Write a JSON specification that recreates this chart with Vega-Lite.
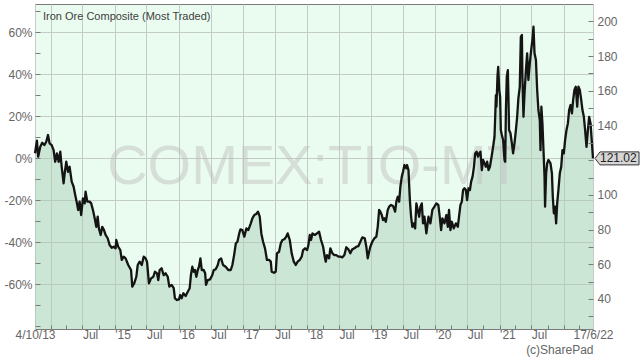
{
  "$schema": "https://vega.github.io/schema/vega-lite/v6.json",
  "width": 558,
  "height": 325,
  "autosize": "none",
  "padding": {"left": 35, "top": 4, "right": 47, "bottom": 31},
  "background": "#ffffff",
  "view": {"fill": "#eafcf0", "stroke": "#7a7a7a", "strokeWidth": 1},
  "title": {"text": "Iron Ore Composite (Most Traded)", "anchor": "start", "frame": "group", "orient": "top", "baseline": "top", "offset": -7, "dx": 8, "dy": 11, "fontSize": 11, "font": "Liberation Sans", "fontWeight": "normal", "color": "#404040"},
  "config": {
    "axis": {"labelFont": "Liberation Sans", "labelFontSize": 12, "labelColor": "#666666", "titleFont": "Liberation Sans", "tickColor": "#7a7a7a", "domain": false, "gridColor": "#c3cdc5", "gridWidth": 1, "gridOpacity": 1}
  },
  "datasets": {
    "iron": [
      {"date":"2013/10/04","price":124.0},{"date":"2013/10/15","price":131.2},{"date":"2013/10/22","price":122.0},{"date":"2013/11/03","price":127.7},{"date":"2013/11/14","price":130.0},{"date":"2013/11/26","price":128.7},{"date":"2013/12/07","price":130.6},{"date":"2013/12/17","price":134.5},{"date":"2013/12/26","price":129.7},
      {"date":"2014/01/07","price":128.7},{"date":"2014/01/18","price":125.8},{"date":"2014/01/27","price":119.1},{"date":"2014/02/06","price":123.9},{"date":"2014/02/16","price":119.1},{"date":"2014/02/25","price":124.9},{"date":"2014/03/05","price":116.2},{"date":"2014/03/16","price":106.7},{"date":"2014/03/23","price":113.3},{"date":"2014/03/31","price":119.1},{"date":"2014/04/10","price":113.3},{"date":"2014/04/19","price":116.2},{"date":"2014/05/01","price":107.6},{"date":"2014/05/12","price":104.7},{"date":"2014/05/21","price":99.9},{"date":"2014/05/31","price":95.1},{"date":"2014/06/07","price":91.3},{"date":"2014/06/15","price":96.1},{"date":"2014/06/24","price":88.4},{"date":"2014/07/04","price":98.0},{"date":"2014/07/14","price":95.1},{"date":"2014/07/19","price":101.8},{"date":"2014/07/29","price":96.1},{"date":"2014/08/11","price":96.1},{"date":"2014/08/20","price":95.1},{"date":"2014/08/30","price":91.3},{"date":"2014/09/09","price":86.5},{"date":"2014/09/18","price":81.6},{"date":"2014/09/26","price":87.4},{"date":"2014/10/03","price":80.7},{"date":"2014/10/13","price":76.9},{"date":"2014/10/22","price":81.6},{"date":"2014/11/01","price":79.7},{"date":"2014/11/10","price":76.9},{"date":"2014/11/22","price":75.0},{"date":"2014/12/03","price":71.1},{"date":"2014/12/15","price":69.5},{"date":"2014/12/26","price":70.1},
      {"date":"2015/01/06","price":69.2},{"date":"2015/01/10","price":74.0},{"date":"2015/01/21","price":70.1},{"date":"2015/02/02","price":68.2},{"date":"2015/02/10","price":62.5},{"date":"2015/02/21","price":64.4},{"date":"2015/03/04","price":63.4},{"date":"2015/03/19","price":59.6},{"date":"2015/04/04","price":56.7},{"date":"2015/04/11","price":47.1},{"date":"2015/04/22","price":49.0},{"date":"2015/05/04","price":52.8},{"date":"2015/05/12","price":59.6},{"date":"2015/05/23","price":61.5},{"date":"2015/06/04","price":59.6},{"date":"2015/06/15","price":64.4},{"date":"2015/06/26","price":63.4},{"date":"2015/07/04","price":61.5},{"date":"2015/07/15","price":49.0},{"date":"2015/07/27","price":51.9},{"date":"2015/08/09","price":52.8},{"date":"2015/08/18","price":55.7},{"date":"2015/08/30","price":54.8},{"date":"2015/09/06","price":50.9},{"date":"2015/09/14","price":56.7},{"date":"2015/09/25","price":57.7},{"date":"2015/10/07","price":53.8},{"date":"2015/10/18","price":54.8},{"date":"2015/10/30","price":52.8},{"date":"2015/11/08","price":47.1},{"date":"2015/11/21","price":48.1},{"date":"2015/12/03","price":46.2},{"date":"2015/12/10","price":40.4},{"date":"2015/12/22","price":39.4},
      {"date":"2016/01/02","price":39.8},{"date":"2016/01/09","price":42.3},{"date":"2016/01/17","price":40.4},{"date":"2016/01/27","price":43.3},{"date":"2016/02/09","price":41.7},{"date":"2016/02/21","price":44.2},{"date":"2016/03/03","price":46.2},{"date":"2016/03/10","price":53.8},{"date":"2016/03/18","price":58.6},{"date":"2016/03/26","price":55.7},{"date":"2016/04/02","price":56.7},{"date":"2016/04/10","price":52.8},{"date":"2016/04/18","price":56.7},{"date":"2016/04/25","price":58.6},{"date":"2016/05/03","price":63.4},{"date":"2016/05/11","price":56.7},{"date":"2016/05/22","price":56.7},{"date":"2016/05/30","price":54.8},{"date":"2016/06/04","price":48.1},{"date":"2016/06/14","price":50.9},{"date":"2016/06/27","price":51.3},{"date":"2016/07/10","price":53.8},{"date":"2016/07/18","price":56.7},{"date":"2016/07/29","price":57.1},{"date":"2016/08/10","price":59.6},{"date":"2016/08/17","price":62.5},{"date":"2016/08/29","price":63.4},{"date":"2016/09/09","price":59.6},{"date":"2016/09/24","price":58.6},{"date":"2016/10/09","price":56.7},{"date":"2016/10/23","price":56.7},{"date":"2016/11/01","price":59.6},{"date":"2016/11/11","price":65.3},{"date":"2016/11/21","price":72.1},{"date":"2016/11/30","price":73.0},{"date":"2016/12/10","price":77.8},{"date":"2016/12/17","price":80.1},{"date":"2016/12/28","price":79.7},
      {"date":"2017/01/08","price":75.9},{"date":"2017/01/20","price":80.7},{"date":"2017/01/31","price":79.7},{"date":"2017/02/14","price":83.6},{"date":"2017/02/23","price":86.5},{"date":"2017/03/06","price":88.4},{"date":"2017/03/17","price":89.0},{"date":"2017/03/27","price":90.3},{"date":"2017/04/06","price":87.4},{"date":"2017/04/15","price":77.8},{"date":"2017/04/25","price":73.0},{"date":"2017/05/06","price":69.2},{"date":"2017/05/17","price":62.5},{"date":"2017/05/29","price":62.5},{"date":"2017/06/08","price":61.5},{"date":"2017/06/13","price":55.7},{"date":"2017/06/26","price":55.1},{"date":"2017/07/06","price":55.7},{"date":"2017/07/13","price":66.3},{"date":"2017/07/25","price":67.2},{"date":"2017/08/04","price":72.1},{"date":"2017/08/13","price":74.0},{"date":"2017/08/24","price":74.4},{"date":"2017/09/04","price":75.9},{"date":"2017/09/12","price":77.8},{"date":"2017/09/24","price":74.0},{"date":"2017/10/05","price":66.3},{"date":"2017/10/17","price":61.5},{"date":"2017/10/28","price":59.6},{"date":"2017/11/08","price":61.5},{"date":"2017/11/20","price":62.5},{"date":"2017/12/01","price":64.4},{"date":"2017/12/09","price":68.2},{"date":"2017/12/20","price":69.2},
      {"date":"2018/01/01","price":68.2},{"date":"2018/01/08","price":71.1},{"date":"2018/01/16","price":76.9},{"date":"2018/01/23","price":74.0},{"date":"2018/01/31","price":77.8},{"date":"2018/02/15","price":76.9},{"date":"2018/02/26","price":77.8},{"date":"2018/03/10","price":78.8},{"date":"2018/03/21","price":74.0},{"date":"2018/04/02","price":70.1},{"date":"2018/04/11","price":64.4},{"date":"2018/04/17","price":61.5},{"date":"2018/04/24","price":65.3},{"date":"2018/05/06","price":63.4},{"date":"2018/05/13","price":69.2},{"date":"2018/05/25","price":66.3},{"date":"2018/06/05","price":65.3},{"date":"2018/06/16","price":65.3},{"date":"2018/06/28","price":64.4},{"date":"2018/07/09","price":64.4},{"date":"2018/07/21","price":64.0},{"date":"2018/08/01","price":65.3},{"date":"2018/08/12","price":69.8},{"date":"2018/08/24","price":68.6},{"date":"2018/09/04","price":66.3},{"date":"2018/09/15","price":68.6},{"date":"2018/09/27","price":69.2},{"date":"2018/10/08","price":70.1},{"date":"2018/10/20","price":70.5},{"date":"2018/10/31","price":73.0},{"date":"2018/11/11","price":75.5},{"date":"2018/11/25","price":75.0},{"date":"2018/12/04","price":70.1},{"date":"2018/12/12","price":63.4},{"date":"2018/12/20","price":67.2},{"date":"2018/12/27","price":70.1},
      {"date":"2019/01/07","price":73.0},{"date":"2019/01/19","price":75.0},{"date":"2019/01/30","price":75.9},{"date":"2019/02/07","price":81.6},{"date":"2019/02/15","price":91.3},{"date":"2019/02/22","price":90.3},{"date":"2019/03/02","price":88.4},{"date":"2019/03/09","price":85.5},{"date":"2019/03/17","price":86.5},{"date":"2019/03/25","price":84.5},{"date":"2019/04/05","price":91.3},{"date":"2019/04/13","price":93.2},{"date":"2019/04/24","price":94.2},{"date":"2019/05/05","price":93.6},{"date":"2019/05/17","price":90.3},{"date":"2019/05/24","price":96.1},{"date":"2019/06/01","price":98.9},{"date":"2019/06/09","price":96.1},{"date":"2019/06/16","price":104.7},{"date":"2019/06/24","price":110.5},{"date":"2019/07/01","price":113.3},{"date":"2019/07/09","price":117.2},{"date":"2019/07/20","price":115.3},{"date":"2019/07/24","price":117.2},{"date":"2019/08/01","price":114.3},{"date":"2019/08/09","price":97.0},{"date":"2019/08/16","price":87.4},{"date":"2019/08/23","price":81.6},{"date":"2019/08/31","price":83.6},{"date":"2019/09/08","price":80.7},{"date":"2019/09/15","price":95.1},{"date":"2019/09/23","price":91.3},{"date":"2019/10/01","price":87.4},{"date":"2019/10/08","price":93.2},{"date":"2019/10/16","price":95.1},{"date":"2019/10/23","price":83.6},{"date":"2019/10/31","price":87.4},{"date":"2019/11/11","price":77.8},{"date":"2019/11/23","price":87.4},{"date":"2019/12/04","price":83.6},{"date":"2019/12/15","price":91.3},{"date":"2019/12/27","price":93.2},
      {"date":"2020/01/07","price":95.1},{"date":"2020/01/18","price":94.2},{"date":"2020/01/26","price":87.4},{"date":"2020/02/03","price":79.7},{"date":"2020/02/10","price":86.5},{"date":"2020/02/22","price":83.6},{"date":"2020/03/04","price":88.4},{"date":"2020/03/12","price":81.6},{"date":"2020/03/19","price":91.3},{"date":"2020/03/27","price":79.7},{"date":"2020/04/04","price":84.5},{"date":"2020/04/15","price":80.7},{"date":"2020/04/27","price":83.6},{"date":"2020/05/08","price":81.6},{"date":"2020/05/15","price":87.4},{"date":"2020/05/23","price":94.2},{"date":"2020/05/31","price":96.1},{"date":"2020/06/07","price":102.8},{"date":"2020/06/15","price":103.8},{"date":"2020/06/23","price":102.8},{"date":"2020/06/30","price":97.0},{"date":"2020/07/08","price":103.8},{"date":"2020/07/16","price":102.8},{"date":"2020/07/23","price":107.6},{"date":"2020/07/31","price":110.5},{"date":"2020/08/08","price":116.2},{"date":"2020/08/15","price":123.9},{"date":"2020/08/23","price":124.9},{"date":"2020/08/31","price":122.0},{"date":"2020/09/07","price":123.9},{"date":"2020/09/14","price":124.9},{"date":"2020/09/22","price":114.3},{"date":"2020/09/29","price":120.1},{"date":"2020/10/07","price":118.2},{"date":"2020/10/15","price":116.2},{"date":"2020/10/22","price":119.1},{"date":"2020/10/30","price":114.3},{"date":"2020/11/07","price":116.2},{"date":"2020/11/18","price":123.0},{"date":"2020/11/25","price":127.7},{"date":"2020/12/03","price":133.5},{"date":"2020/12/07","price":145.0},{"date":"2020/12/11","price":157.5},{"date":"2020/12/14","price":150.8},{"date":"2020/12/20","price":168.1},{"date":"2020/12/24","price":173.8},{"date":"2020/12/30","price":160.4},
      {"date":"2021/01/04","price":156.6},{"date":"2021/01/08","price":137.4},{"date":"2021/01/14","price":134.5},{"date":"2021/01/21","price":131.6},{"date":"2021/01/25","price":125.8},{"date":"2021/01/29","price":120.1},{"date":"2021/02/02","price":119.1},{"date":"2021/02/06","price":148.9},{"date":"2021/02/11","price":168.1},{"date":"2021/02/17","price":171.9},{"date":"2021/02/20","price":158.5},{"date":"2021/02/24","price":137.4},{"date":"2021/03/04","price":135.5},{"date":"2021/03/12","price":129.7},{"date":"2021/03/19","price":123.9},{"date":"2021/03/27","price":129.7},{"date":"2021/04/04","price":137.4},{"date":"2021/04/11","price":145.0},{"date":"2021/04/18","price":155.6},{"date":"2021/04/26","price":162.3},{"date":"2021/05/02","price":191.1},{"date":"2021/05/08","price":192.1},{"date":"2021/05/11","price":168.1},{"date":"2021/05/17","price":145.0},{"date":"2021/05/23","price":158.5},{"date":"2021/05/31","price":171.9},{"date":"2021/06/07","price":181.6},{"date":"2021/06/14","price":166.2},{"date":"2021/06/22","price":175.8},{"date":"2021/06/30","price":183.5},{"date":"2021/07/07","price":189.2},{"date":"2021/07/13","price":196.9},{"date":"2021/07/19","price":181.6},{"date":"2021/07/27","price":177.7},{"date":"2021/08/03","price":160.4},{"date":"2021/08/10","price":148.9},{"date":"2021/08/18","price":143.1},{"date":"2021/08/22","price":125.8},{"date":"2021/08/27","price":150.8},{"date":"2021/09/02","price":141.2},{"date":"2021/09/08","price":125.8},{"date":"2021/09/14","price":110.5},{"date":"2021/09/17","price":93.2},{"date":"2021/09/23","price":112.4},{"date":"2021/09/29","price":118.2},{"date":"2021/10/06","price":120.1},{"date":"2021/10/18","price":118.2},{"date":"2021/10/26","price":112.4},{"date":"2021/10/31","price":98.9},{"date":"2021/11/06","price":89.4},{"date":"2021/11/13","price":93.2},{"date":"2021/11/19","price":83.6},{"date":"2021/11/25","price":95.1},{"date":"2021/12/02","price":102.8},{"date":"2021/12/10","price":112.4},{"date":"2021/12/18","price":116.2},{"date":"2021/12/25","price":125.8},
      {"date":"2022/01/02","price":123.9},{"date":"2022/01/09","price":131.6},{"date":"2022/01/17","price":137.4},{"date":"2022/01/25","price":141.2},{"date":"2022/02/01","price":148.9},{"date":"2022/02/09","price":151.8},{"date":"2022/02/17","price":147.0},{"date":"2022/02/24","price":154.7},{"date":"2022/03/03","price":160.4},{"date":"2022/03/11","price":162.3},{"date":"2022/03/19","price":150.8},{"date":"2022/03/26","price":162.3},{"date":"2022/04/03","price":160.4},{"date":"2022/04/11","price":154.7},{"date":"2022/04/18","price":148.9},{"date":"2022/04/26","price":145.0},{"date":"2022/05/03","price":137.4},{"date":"2022/05/11","price":127.7},{"date":"2022/05/19","price":137.4},{"date":"2022/05/26","price":145.0},{"date":"2022/06/03","price":141.2},{"date":"2022/06/11","price":129.7},{"date":"2022/06/17","price":121.02}
    ],
    "last": [{"date":"2022/06/17","price":121.02,"label":"121.02"}],
    "mark": [{"watermark":"COMEX:TIO-MT"}]
  },
  "resolve": {"axis": {"x": "independent", "y": "independent"}},
  "layer": [
    {
      "data": {"name": "iron"},
      "mark": {"type": "area", "fill": "#a8cdb4", "fillOpacity": 0.45, "clip": true},
      "encoding": {
        "x": {"field": "date", "type": "temporal",
          "scale": {"domain": [{"year":2013,"month":10,"date":4},{"year":2022,"month":6,"date":17}]},
          "axis": {"orient": "bottom",
            "values": [{"year":2013,"month":10,"date":4},{"year":2014,"month":1,"date":1},{"year":2014,"month":7,"date":1},{"year":2015,"month":1,"date":1},{"year":2015,"month":7,"date":1},{"year":2016,"month":1,"date":1},{"year":2016,"month":7,"date":1},{"year":2017,"month":1,"date":1},{"year":2017,"month":7,"date":1},{"year":2018,"month":1,"date":1},{"year":2018,"month":7,"date":1},{"year":2019,"month":1,"date":1},{"year":2019,"month":7,"date":1},{"year":2020,"month":1,"date":1},{"year":2020,"month":7,"date":1},{"year":2021,"month":1,"date":1},{"year":2021,"month":7,"date":1},{"year":2022,"month":1,"date":1},{"year":2022,"month":6,"date":17}],
            "labelExpr": "date(datum.value) != 1 ? timeFormat(datum.value, '%-d/%-m/%y') : (month(datum.value) == 6 ? 'Jul' : ((year(datum.value) == 2014 || year(datum.value) == 2022) ? '' : \"'\" + timeFormat(datum.value, '%y')))",
            "labelAlign": {"condition": {"test": "date(datum.value) == 1", "value": "left"}, "value": "center"},
            "labelFlush": false, "labelOverlap": false, "labelBound": false,
            "grid": true, "ticks": false, "labelPadding": 0,
            "title": "(c)SharePad", "titleAnchor": "end", "titleFontSize": 12, "titleFontWeight": "normal", "titleColor": "#666666", "titlePadding": 4}
        },
        "y": {"field": "price", "type": "quantitative",
          "scale": {"domain": [22.7, 210], "zero": false, "nice": false},
          "axis": {"orient": "left", "values": [48.408, 72.612, 96.816, 121.02, 145.224, 169.428, 193.632],
            "labelExpr": "round((datum.value / 121.02 - 1) * 100) + '%'",
            "grid": true, "ticks": false, "labelPadding": 3, "title": null}
        }
      }
    },
    {
      "data": {"name": "mark"},
      "mark": {"type": "text", "font": "Liberation Sans", "fontSize": 56, "align": "center", "baseline": "alphabetic", "dy": 17, "fill": "#bdbdbd", "opacity": 0.45},
      "encoding": {"text": {"field": "watermark", "type": "nominal"}}
    },
    {
      "data": {"name": "iron"},
      "mark": {"type": "line", "color": "#141414", "strokeWidth": 2.3, "strokeJoin": "round"},
      "encoding": {
        "x": {"field": "date", "type": "temporal",
          "scale": {"domain": [{"year":2013,"month":10,"date":4},{"year":2022,"month":6,"date":17}]},
          "axis": {"orient": "bottom", "zindex": 1,
            "values": [{"year":2014,"month":1,"date":1},{"year":2014,"month":4,"date":1},{"year":2014,"month":7,"date":1},{"year":2014,"month":10,"date":1},{"year":2015,"month":1,"date":1},{"year":2015,"month":4,"date":1},{"year":2015,"month":7,"date":1},{"year":2015,"month":10,"date":1},{"year":2016,"month":1,"date":1},{"year":2016,"month":4,"date":1},{"year":2016,"month":7,"date":1},{"year":2016,"month":10,"date":1},{"year":2017,"month":1,"date":1},{"year":2017,"month":4,"date":1},{"year":2017,"month":7,"date":1},{"year":2017,"month":10,"date":1},{"year":2018,"month":1,"date":1},{"year":2018,"month":4,"date":1},{"year":2018,"month":7,"date":1},{"year":2018,"month":10,"date":1},{"year":2019,"month":1,"date":1},{"year":2019,"month":4,"date":1},{"year":2019,"month":7,"date":1},{"year":2019,"month":10,"date":1},{"year":2020,"month":1,"date":1},{"year":2020,"month":4,"date":1},{"year":2020,"month":7,"date":1},{"year":2020,"month":10,"date":1},{"year":2021,"month":1,"date":1},{"year":2021,"month":4,"date":1},{"year":2021,"month":7,"date":1},{"year":2021,"month":10,"date":1},{"year":2022,"month":1,"date":1},{"year":2022,"month":4,"date":1}],
            "labels": false, "grid": false, "ticks": true, "tickSize": -4, "title": null}
        },
        "y": {"field": "price", "type": "quantitative",
          "scale": {"domain": [22.7, 210], "zero": false, "nice": false},
          "axis": {"orient": "right", "zindex": 1, "values": [30,40,50,60,70,80,90,100,110,120,130,140,150,160,170,180,190,200],
            "labelExpr": "(datum.value % 20 == 0 && datum.value != 120) ? datum.label : ''",
            "labelOverlap": false, "grid": false, "ticks": true, "tickSize": -5, "labelPadding": 9, "title": null}
        }
      }
    },
    {
      "data": {"name": "last"},
      "mark": {"type": "point", "shape": "M2,0L7,-6.5L46,-6.5L46,6.5L7,6.5Z", "size": 4, "filled": true, "fill": "#d6d6d6", "stroke": "#333333", "strokeWidth": 1, "opacity": 1, "fillOpacity": 1, "strokeOpacity": 1},
      "encoding": {
        "x": {"field": "date", "type": "temporal",
          "scale": {"domain": [{"year":2013,"month":10,"date":4},{"year":2022,"month":6,"date":17}]},
          "axis": null},
        "y": {"field": "price", "type": "quantitative",
          "scale": {"domain": [22.7, 210], "zero": false, "nice": false},
          "axis": {"orient": "left", "zindex": 1, "values": [24.204, 36.306, 48.408, 60.51, 72.612, 84.714, 96.816, 108.918, 121.02, 133.122, 145.224, 157.326, 169.428, 181.53, 193.632, 205.734],
            "labels": false, "grid": false, "ticks": true, "tickSize": -5, "title": null}
        }
      }
    },
    {
      "data": {"name": "last"},
      "mark": {"type": "text", "font": "Liberation Sans", "fontSize": 12, "align": "left", "baseline": "middle", "dx": 7, "color": "#222222"},
      "encoding": {
        "x": {"field": "date", "type": "temporal",
          "scale": {"domain": [{"year":2013,"month":10,"date":4},{"year":2022,"month":6,"date":17}]},
          "axis": null},
        "y": {"field": "price", "type": "quantitative",
          "scale": {"domain": [22.7, 210], "zero": false, "nice": false},
          "axis": null},
        "text": {"field": "label", "type": "nominal"}
      }
    }
  ]
}
